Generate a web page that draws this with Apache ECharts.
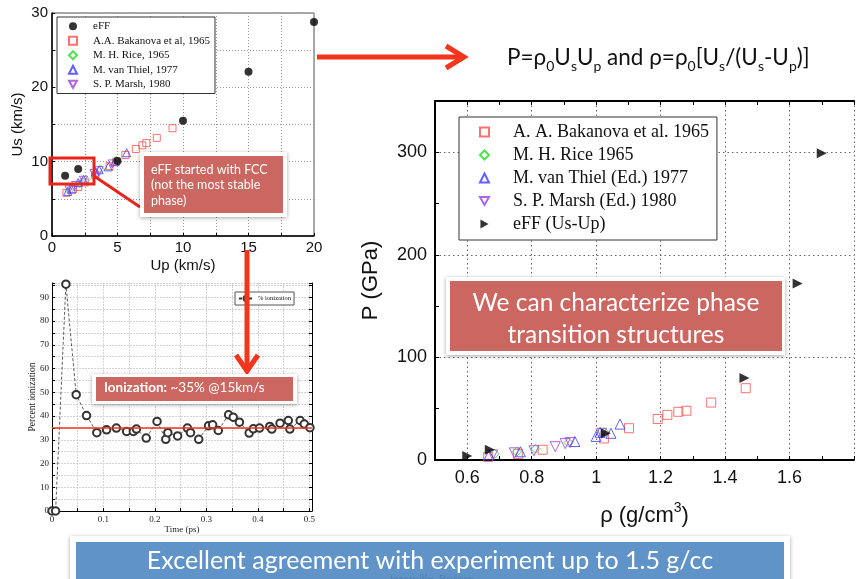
<!DOCTYPE html>
<html>
<head>
<meta charset="utf-8">
<script src="https://cdn.jsdelivr.net/npm/echarts@6.0.0/dist/echarts.min.js"></script>
<style>
  html, body { margin: 0; padding: 0; background: #fff; }
  #main { width: 857px; height: 579px; }
</style>
</head>
<body>
<div id="main"></div>
<script>
'use strict';

// ---- Us vs Up (top left) ----
var effUsUp = [[1, 8.1], [2, 9.0], [5, 10.1], [10, 15.5], [15, 22.1], [20, 28.8]];
var bakanovaUsUp = [[1.1, 5.8], [1.6, 6.3], [2.0, 6.6], [2.5, 7.2], [3.3, 8.2], [4.4, 9.4], [4.9, 10.0],
  [5.6, 10.9], [6.4, 11.7], [6.9, 12.2], [7.2, 12.5], [8.0, 13.2], [9.2, 14.5]];
var riceUsUp = [[1.3, 6.1], [2.1, 7.0], [2.6, 7.6], [3.7, 9.0], [4.9, 10.2]];
var vanThielUsUp = [[1.2, 6.0], [1.5, 6.3], [2.0, 7.2], [2.4, 7.6], [3.3, 8.6], [3.6, 8.9], [4.3, 9.3], [4.8, 10.0], [5.7, 11.2]];
var marshUsUp = [[1.3, 6.2], [1.8, 6.8], [2.4, 7.5], [3.2, 8.4], [3.6, 8.8], [4.6, 9.7]];

// ---- percent ionization vs time (bottom left) ----
var ionization = [[0, 0], [0.007, 0], [0.027, 95.5], [0.047, 49], [0.067, 40.2], [0.087, 33.0], [0.106, 34.2],
  [0.125, 34.9], [0.145, 33.5], [0.158, 33.5], [0.164, 34.5], [0.183, 30.7], [0.204, 37.7], [0.221, 30.2],
  [0.225, 33.0], [0.244, 31.6], [0.263, 34.9], [0.269, 33.0], [0.285, 30.2], [0.304, 35.9], [0.312, 36.3],
  [0.323, 33.9], [0.343, 40.5], [0.352, 39.5], [0.364, 37.4], [0.383, 32.8], [0.391, 34.6], [0.403, 34.9],
  [0.423, 35.6], [0.427, 34.5], [0.443, 37.0], [0.459, 38.1], [0.462, 34.5], [0.482, 38.1], [0.490, 36.6], [0.501, 35.1]];
var ionizationLevel = 35;

// ---- P vs rho (right) ----
var effRhoP = [[0.6, 4], [0.67, 10], [1.03, 26], [1.46, 80], [1.625, 172], [1.70, 299]];
var bakanovaRhoP = [[0.665, 3], [0.757, 6], [0.834, 10], [1.024, 21], [1.102, 31], [1.191, 40], [1.221, 44],
  [1.255, 47], [1.28, 48], [1.357, 56], [1.464, 70]];
var riceRhoP = [[0.685, 6], [0.754, 8], [0.812, 11], [0.914, 17], [1.026, 27]];
var vanThielRhoP = [[0.668, 5], [0.765, 8], [0.934, 18], [1.0, 23], [1.012, 27], [1.046, 26], [1.074, 35]];
var marshRhoP = [[0.679, 5], [0.746, 7], [0.807, 9], [0.873, 13], [0.904, 16], [0.919, 17], [1.017, 26]];

var SANS = 'Liberation Sans';
var SERIF = 'Liberation Serif';
var SLIDE = 'Lato';
var RED = '#f2351c';
var CALLOUT = '#cc6660';
// triangles pointing down / right, as paths so the legend draws them the same way
var DOWN_TRI = 'path://M0,0L10,0L5,9Z';
var RIGHT_TRI = 'path://M0,0L9,5L0,10Z';

function isStep(v, step) {
  var q = v / step;
  return Math.abs(q - Math.round(q)) < 1e-6;
}

function scatter(name, data, xi, yi, symbol, size, color, filled) {
  return {
    name: name, type: 'scatter', xAxisIndex: xi, yAxisIndex: yi, data: data,
    symbol: symbol, symbolSize: size,
    itemStyle: filled ? { color: color } : { color: 'rgba(255,255,255,0)', borderColor: color, borderWidth: 1 },
    silent: true
  };
}

var chart = echarts.init(document.getElementById('main'));

var option = {
  animation: false,
  backgroundColor: '#fff',
  grid: [
    { left: 52, top: 13, width: 262, height: 223, show: true, borderColor: '#555', borderWidth: 1, backgroundColor: 'transparent' },
    { left: 52, top: 283, width: 260, height: 228 },
    { left: 435, top: 101, width: 425, height: 359 }
  ],
  legend: [
    {
      left: 57, top: 17, orient: 'vertical', selectedMode: false,
      data: ['eFF', 'A.A. Bakanova et al, 1965', 'M. H. Rice, 1965', 'M. van Thiel, 1977', 'S. P. Marsh, 1980'],
      itemWidth: 8, itemHeight: 8, itemGap: 2,
      padding: [3, 5, 3, 11], borderColor: '#333', borderWidth: 1, backgroundColor: '#fff',
      textStyle: { fontFamily: SERIF, fontSize: 11, lineHeight: 12.5, color: '#111', padding: [0, 0, 0, 11] }
    },
    {
      left: 235, top: 292, orient: 'vertical', selectedMode: false,
      data: ['% ionization'],
      itemWidth: 14, itemHeight: 6,
      padding: [3, 3, 3, 3], borderColor: '#555', borderWidth: 1, backgroundColor: '#fff',
      textStyle: { fontFamily: SERIF, fontSize: 6.5, color: '#111' }
    },
    {
      left: 459, top: 117, orient: 'vertical', selectedMode: false,
      data: ['A. A. Bakanova et al. 1965', 'M. H. Rice 1965', 'M. van Thiel (Ed.) 1977', 'S. P. Marsh (Ed.) 1980', 'eFF (Us-Up)'],
      itemWidth: 9, itemHeight: 9, itemGap: 3,
      padding: [5, 8, 6, 20], borderColor: '#333', borderWidth: 1, backgroundColor: '#fff',
      textStyle: { fontFamily: SERIF, fontSize: 18, lineHeight: 20, color: '#111', padding: [0, 0, 0, 19] }
    }
  ],
  xAxis: [
    {
      gridIndex: 0, type: 'value', min: 0, max: 20, interval: 2.5,
      axisLine: { onZero: false, lineStyle: { color: '#000', width: 1.5 } },
      axisTick: { inside: true, length: 3, lineStyle: { color: '#000' } },
      axisLabel: { fontFamily: SANS, fontSize: 15, color: '#111', margin: 4,
        formatter: function (v) { return isStep(v, 5) ? String(v) : ''; } },
      splitLine: { show: true, lineStyle: { color: '#999', type: [1, 2] } },
      name: 'Up (km/s)', nameLocation: 'middle', nameGap: 22, nameMoveOverlap: false,
      nameTextStyle: { fontFamily: SANS, fontSize: 15, color: '#111' }
    },
    {
      gridIndex: 1, type: 'value', min: 0, max: 0.505, interval: 0.05,
      axisLine: { onZero: false, lineStyle: { color: '#000', width: 1 } },
      axisTick: { inside: true, length: 3, lineStyle: { color: '#000' } },
      axisLabel: { fontFamily: SERIF, fontSize: 9, color: '#222', margin: 4,
        formatter: function (v) { return isStep(v, 0.1) ? (v === 0 ? '0' : v.toFixed(1)) : ''; } },
      splitLine: { show: true, lineStyle: { color: '#c8c8c8', type: [2, 1], width: 0.8 } },
      name: 'Time (ps)', nameLocation: 'middle', nameGap: 14, nameMoveOverlap: false,
      nameTextStyle: { fontFamily: SERIF, fontSize: 9, color: '#222' }
    },
    {
      gridIndex: 2, type: 'value', min: 0.5, max: 1.8, interval: 0.1,
      axisLine: { onZero: false, lineStyle: { color: '#000', width: 2 } },
      axisTick: { inside: true, length: 4, lineStyle: { color: '#000' } },
      axisLabel: { fontFamily: SANS, fontSize: 18, color: '#111', margin: 9,
        formatter: function (v) {
          if (!isStep(v, 0.2) || v < 0.55 || v > 1.75) return '';
          return Math.abs(v - 1) < 1e-6 ? '1' : v.toFixed(1);
        } },
      splitLine: { show: true, lineStyle: { color: ['rgba(0,0,0,0)', '#666'], type: [1.5, 3] } },
      name: 'ρ (g/cm{sup|3})', nameLocation: 'middle', nameGap: 41, nameMoveOverlap: false,
      nameTextStyle: { fontFamily: SANS, fontSize: 22, color: '#111', lineHeight: 30,
        rich: { sup: { fontFamily: SANS, fontSize: 14, verticalAlign: 'top', lineHeight: 30 } } }
    },
    {
      gridIndex: 2, type: 'value', position: 'top', min: 0.5, max: 1.8, interval: 0.1,
      axisLine: { onZero: false, lineStyle: { color: '#000', width: 2 } },
      axisTick: { inside: true, length: 4, lineStyle: { color: '#000' } },
      axisLabel: { show: false }, splitLine: { show: false }
    }
  ],
  yAxis: [
    {
      gridIndex: 0, type: 'value', min: 0, max: 30, interval: 5,
      axisLine: { onZero: false, lineStyle: { color: '#000', width: 1.5 } },
      axisTick: { inside: true, length: 3, lineStyle: { color: '#000' } },
      axisLabel: { fontFamily: SANS, fontSize: 15, color: '#111', margin: 4,
        formatter: function (v) { return isStep(v, 10) ? String(v) : ''; } },
      splitLine: { show: true, lineStyle: { color: '#999', type: [1, 2] } },
      name: 'Us (km/s)', nameLocation: 'middle', nameGap: 27, nameMoveOverlap: false,
      nameTextStyle: { fontFamily: SANS, fontSize: 15, color: '#111' }
    },
    {
      gridIndex: 1, type: 'value', min: 0, max: 96, interval: 5,
      axisLine: { onZero: false, lineStyle: { color: '#000', width: 1 } },
      axisTick: { inside: true, length: 3, lineStyle: { color: '#000' } },
      axisLabel: { fontFamily: SERIF, fontSize: 9, color: '#222', margin: 3,
        formatter: function (v) { return isStep(v, 10) ? String(v) : ''; } },
      splitLine: { show: true, lineStyle: { color: '#c8c8c8', type: [2, 1], width: 0.8 } },
      name: 'Percent ionization', nameLocation: 'middle', nameGap: 15, nameMoveOverlap: false,
      nameTextStyle: { fontFamily: SERIF, fontSize: 9.5, color: '#222' }
    },
    {
      gridIndex: 1, type: 'value', position: 'right', min: 0, max: 96, interval: 5,
      axisLine: { show: true, onZero: false, lineStyle: { color: '#000', width: 1 } },
      axisTick: { inside: true, length: 3, lineStyle: { color: '#000' } },
      axisLabel: { show: false }, splitLine: { show: false }
    },
    {
      gridIndex: 2, type: 'value', min: 0, max: 350, interval: 50,
      axisLine: { onZero: false, lineStyle: { color: '#000', width: 2 } },
      axisTick: { inside: true, length: 4, lineStyle: { color: '#000' } },
      axisLabel: { fontFamily: SANS, fontSize: 18, color: '#111', margin: 8,
        formatter: function (v) { return isStep(v, 100) ? String(v) : ''; } },
      splitLine: { show: true, lineStyle: { color: ['#666', 'rgba(0,0,0,0)'], type: [1.5, 3] } },
      name: 'P (GPa)', nameLocation: 'middle', nameGap: 53, nameMoveOverlap: false,
      nameTextStyle: { fontFamily: SANS, fontSize: 22, color: '#111' }
    }
  ],
  series: [
    // top left
    scatter('A.A. Bakanova et al, 1965', bakanovaUsUp, 0, 0, 'rect', 7, '#ff4d4d', false),
    scatter('M. H. Rice, 1965', riceUsUp, 0, 0, 'diamond', 8, '#22dd22', false),
    scatter('M. van Thiel, 1977', vanThielUsUp, 0, 0, 'triangle', 8, '#3a3aff', false),
    scatter('S. P. Marsh, 1980', marshUsUp, 0, 0, DOWN_TRI, 8, '#9a3ee0', false),
    scatter('eFF', effUsUp, 0, 0, 'circle', 8, '#000', true),
    // bottom left
    {
      name: '% ionization', type: 'line', xAxisIndex: 1, yAxisIndex: 1, data: ionization,
      symbol: 'emptyCircle', symbolSize: 7.5, silent: true,
      lineStyle: { color: '#333', width: 0.8, type: [3, 2] },
      itemStyle: { color: '#333', borderWidth: 0.7 },
      markLine: {
        silent: true, symbol: 'none', label: { show: false },
        lineStyle: { color: RED, width: 1.5, type: 'solid' },
        data: [{ yAxis: ionizationLevel }]
      }
    },
    // right
    scatter('A. A. Bakanova et al. 1965', bakanovaRhoP, 2, 3, 'rect', 9, '#ff4d4d', false),
    scatter('M. H. Rice 1965', riceRhoP, 2, 3, 'diamond', 9, '#22dd22', false),
    scatter('M. van Thiel (Ed.) 1977', vanThielRhoP, 2, 3, 'triangle', 10, '#3a3aff', false),
    scatter('S. P. Marsh (Ed.) 1980', marshRhoP, 2, 3, DOWN_TRI, 10, '#9a3ee0', false),
    scatter('eFF (Us-Up)', effRhoP, 2, 3, RIGHT_TRI, 10, '#000', true)
  ],
  graphic: [
    // highlight box + pointer line on the Us-Up chart
    { type: 'rect', z: 100, shape: { x: 50, y: 158, width: 44, height: 26 },
      style: { fill: null, stroke: '#e8251b', lineWidth: 3 } },
    { type: 'line', z: 100, shape: { x1: 94, y1: 176, x2: 140, y2: 207 },
      style: { stroke: '#e8251b', lineWidth: 3 } },
    // callout: FCC
    { type: 'rect', z: 100, shape: { x: 140, y: 152, width: 147, height: 65 },
      style: { fill: '#fff', shadowBlur: 4, shadowColor: 'rgba(0,0,0,0.35)', shadowOffsetY: 1 } },
    { type: 'rect', z: 101, shape: { x: 144, y: 156, width: 139, height: 57 }, style: { fill: CALLOUT } },
    { type: 'text', z: 102, left: 151, top: 162,
      style: { text: 'eFF started with FCC\n(not the most stable\nphase)', fill: '#fff',
        font: '12.5px ' + SLIDE, lineHeight: 15.5 } },
    // right arrow to formula
    { type: 'line', z: 100, shape: { x1: 317, y1: 57, x2: 462, y2: 57 }, style: { stroke: RED, lineWidth: 5 } },
    { type: 'polyline', z: 100, shape: { points: [[446, 46], [464, 57], [446, 68]] },
      style: { stroke: RED, lineWidth: 5, fill: null, lineJoin: 'miter' } },
    { type: 'text', z: 100, x: 507, y: 58,
      style: {
        text: 'P=ρ{s|0}U{s|s}U{s|p} and ρ=ρ{s|0}[U{s|s}/(U{s|s}-U{s|p})]',
        fill: '#111', font: '22.5px ' + SLIDE, lineHeight: 30, verticalAlign: 'middle',
        rich: { s: { fontSize: 14, fontFamily: SLIDE, fill: '#111', verticalAlign: 'bottom', lineHeight: 30 } }
      } },
    // down arrow to ionization chart
    { type: 'line', z: 100, shape: { x1: 247, y1: 250, x2: 247, y2: 369 }, style: { stroke: RED, lineWidth: 5 } },
    { type: 'polyline', z: 100, shape: { points: [[236, 355], [247, 371], [258, 355]] },
      style: { stroke: RED, lineWidth: 5, fill: null, lineJoin: 'miter' } },
    // callout: ionization
    { type: 'rect', z: 100, shape: { x: 92, y: 374, width: 205, height: 30 },
      style: { fill: '#fff', shadowBlur: 4, shadowColor: 'rgba(0,0,0,0.35)', shadowOffsetY: 1 } },
    { type: 'rect', z: 101, shape: { x: 96, y: 377, width: 197, height: 24 }, style: { fill: CALLOUT } },
    { type: 'text', z: 102, left: 104, top: 381,
      style: { text: '{b|Ionization:} ~35% @15km/s', fill: '#fff', font: '13.5px ' + SLIDE,
        rich: { b: { fontWeight: 'bold', fontSize: 13.5, fontFamily: SLIDE, fill: '#fff' } } } },
    // callout: phase transitions
    { type: 'rect', z: 100, shape: { x: 446, y: 277, width: 339, height: 78 },
      style: { fill: '#fff', shadowBlur: 4, shadowColor: 'rgba(0,0,0,0.35)', shadowOffsetY: 1 } },
    { type: 'rect', z: 101, shape: { x: 450, y: 281, width: 332, height: 70 }, style: { fill: CALLOUT } },
    { type: 'text', z: 102, x: 616, y: 319,
      style: { text: 'We can characterize phase\ntransition structures', fill: '#fff', font: '24.5px ' + SLIDE,
        lineHeight: 32, align: 'center', verticalAlign: 'middle' } },
    // bottom banner
    { type: 'rect', z: 100, shape: { x: 70, y: 536, width: 720, height: 60 },
      style: { fill: '#fff', shadowBlur: 4, shadowColor: 'rgba(0,0,0,0.35)', shadowOffsetY: 1 } },
    { type: 'rect', z: 101, shape: { x: 76, y: 542, width: 708, height: 50 }, style: { fill: '#6094c8' } },
    { type: 'text', z: 102, x: 430, y: 561,
      style: { text: 'Excellent agreement with experiment up to 1.5 g/cc', fill: '#fff', font: '25px ' + SLIDE,
        align: 'center', verticalAlign: 'middle' } },
    { type: 'text', z: 103, x: 388, y: 573,
      style: { text: 'Jaramillo-Botero', fill: 'rgba(70,100,140,0.35)', font: '12px ' + SLIDE } }
  ]
};

chart.setOption(option);
window.addEventListener('resize', function () {
  chart.resize();
});
</script>
</body>
</html>
